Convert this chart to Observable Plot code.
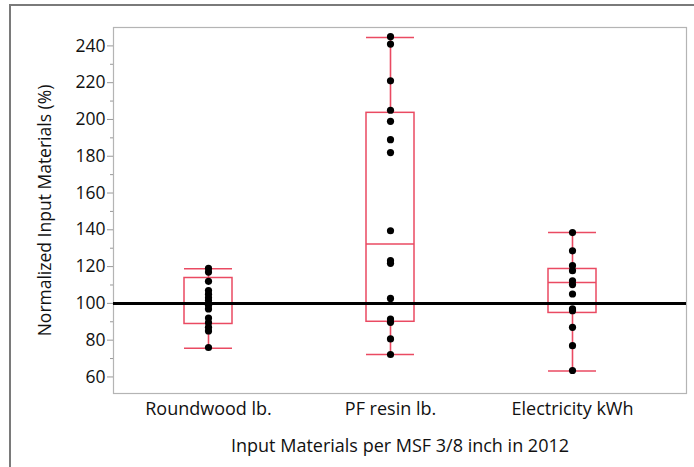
<!DOCTYPE html>
<html>
<head>
<meta charset="utf-8">
<script src="https://cdn.jsdelivr.net/npm/d3@7"></script>
<script src="https://cdn.jsdelivr.net/npm/@observablehq/plot@0.6"></script>
<style>
  html, body { margin: 0; padding: 0; background: #fff; }
  #wrap { position: relative; width: 694px; height: 467px; overflow: hidden; }
  #border { position: absolute; left: 9px; top: 4px; width: 700px; height: 480px;
            border-top: 2px solid #7a7a7a; border-left: 2px solid #7a7a7a; }
  #chart { position: absolute; left: 0; top: 0; }
</style>
</head>
<body>
<div id="wrap"><div id="border"></div><div id="chart"></div></div>
<script>
const categories = ["Roundwood lb.", "PF resin lb.", "Electricity kWh"];
const roundwood = [119, 117, 112, 107, 105, 103, 101.5, 99, 97, 92, 89.5, 87, 85, 76];
const pfResin = [245, 241, 221, 205, 199, 189, 182, 139.5, 123.2, 121.8, 102.7, 91.5, 89.7, 80.7, 72.2];
const electricity = [138.5, 128.6, 120.5, 117.8, 112.3, 110.2, 105.1, 97, 96, 87, 77, 63.5];
const q1 = [88.8, 90, 94.8];
const medians = [99.8, 132.3, 111.4];
const q3 = [113.8, 203.6, 118.7];
const whiskerLow = [75.6, 72.2, 63.3];
const whiskerHigh = [118.8, 244.6, 138.6];
const yTicks = [60, 80, 100, 120, 140, 160, 180, 200, 220, 240];
const yMinorTicks = [70, 90, 110, 130, 150, 170, 190, 210, 230];
const referenceValue = [100];

const seriesValues = [roundwood, pfResin, electricity];
const points = seriesValues.flatMap((vals, i) => vals.map(v => ({cat: categories[i], v})));
const boxes = categories.map((c, i) => ({cat: c, q1: q1[i], med: medians[i], q3: q3[i], lo: whiskerLow[i], hi: whiskerHigh[i]}));

const red = "#ea4a62";
const font = "'Open Sans', 'Noto Sans', sans-serif";

const chart = Plot.plot({
  width: 694,
  height: 467,
  marginLeft: 113,
  marginRight: 8,
  marginTop: 27,
  marginBottom: 74,
  style: {fontFamily: font, fontSize: "17.5px", color: "#111", background: "transparent"},
  x: {type: "band", domain: categories, padding: 0, insetLeft: 3, insetRight: 23},
  y: {domain: [51, 250]},
  marks: [
    Plot.frame({stroke: "#b4b4b4", strokeWidth: 1.2}),
    Plot.axisY(yMinorTicks, {tickSize: 3, tickFormat: () => "", stroke: "#999", label: null}),
    Plot.axisY(yTicks, {tickSize: 6, tickPadding: 2, stroke: "#999", fill: "#111", fontSize: 17.5,
      label: "Normalized Input Materials (%)", labelAnchor: "center", labelArrow: "none", labelOffset: 75}),
    Plot.axisX({tickSize: 0, tickPadding: 9, fill: "#111", fontSize: 18,
      label: "Input Materials per MSF 3/8 inch in 2012", labelAnchor: "center", labelArrow: "none", labelOffset: 58}),
    Plot.ruleX(boxes, {x: "cat", y1: "lo", y2: "hi", stroke: red, strokeWidth: 1.6}),
    Plot.barY(boxes, {x: "cat", y1: "q1", y2: "q3", fill: "white", stroke: red, strokeWidth: 1.5, insetLeft: 67, insetRight: 67}),
    Plot.tickY(boxes, {x: "cat", y: "med", stroke: red, strokeWidth: 1.5, insetLeft: 67, insetRight: 67}),
    Plot.tickY(boxes, {x: "cat", y: "lo", stroke: red, strokeWidth: 1.5, insetLeft: 67, insetRight: 67}),
    Plot.tickY(boxes, {x: "cat", y: "hi", stroke: red, strokeWidth: 1.5, insetLeft: 67, insetRight: 67}),
    Plot.ruleY(referenceValue, {stroke: "black", strokeWidth: 3}),
    Plot.dot(points, {x: "cat", y: "v", r: 3.6, fill: "black", stroke: "none"})
  ]
});
document.getElementById("chart").appendChild(chart);
</script>
</body>
</html>
